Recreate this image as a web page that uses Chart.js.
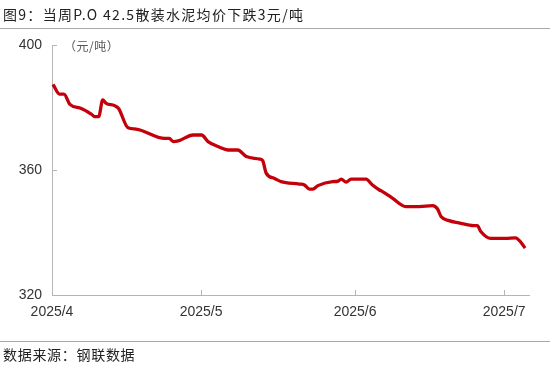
<!DOCTYPE html>
<html>
<head>
<meta charset="utf-8">
<script src="https://cdn.jsdelivr.net/npm/chart.js@4"></script>
<style>
  body { margin: 0; background: #fff; }
  #wrap { position: relative; width: 550px; height: 367px; overflow: hidden; }
  #chart { position: absolute; left: 0; top: 0; }
  .title { position: absolute; left: 3px; top: 4px; font: 14px "Noto Sans CJK SC", sans-serif; letter-spacing: 1.3px; color: #222; white-space: nowrap; }
  .rule { position: absolute; left: 0; width: 550px; height: 1px; background: #a8a8a8; }
  .unit { position: absolute; left: 64px; top: 37px; font: 12px "Noto Sans CJK SC", sans-serif; letter-spacing: 0.5px; color: #555; }
  .source { position: absolute; left: 3px; top: 344px; font: 14px "Noto Sans CJK SC", sans-serif; letter-spacing: 0.7px; color: #222; white-space: nowrap; }
</style>
</head>
<body>
<div id="wrap">
  <canvas id="chart" width="550" height="367"></canvas>
  <div class="title">图9：当周P.O 42.5散装水泥均价下跌3元/吨</div>
  <div class="rule" style="top:28px"></div>
  <div class="unit">（元/吨）</div>
  <div class="rule" style="top:341px"></div>
  <div class="source">数据来源：钢联数据</div>
</div>
<script>
// dias desde 2025/4/1 y precio (元/吨)
const dayOffsets = [0.2, 1.5, 2.4, 3.6, 5.9, 7.9, 8.6, 9.4, 10.2, 10.9, 12.6, 13.4, 15.3, 16.9,
  22.7, 23.6, 24.4, 25.4, 28.4, 30.1, 31.4, 33.7, 35.4, 37.4, 39.1, 41.8, 42.4, 43.1, 44.8, 46.1,
  49.8, 50.8, 51.8, 52.5, 53.5, 56.5, 57.5, 58.2, 59.2, 60.2, 63.2, 64.5, 65.9, 66.5, 68.5, 71.2,
  73.9, 76.6, 77.6, 78.3, 79.9, 81.9, 84.9, 85.6, 86.3, 88.3, 91.3, 93.3, 94.3, 95.2];
const prices = [387.4, 384.3, 384.3, 381, 379.7, 377.9, 377.1, 377.1, 382.4, 381.3, 380.6, 379.7, 373.5, 373.1,
  370.1, 370.1, 369.1, 369.3, 371.2, 371.2, 369.1, 367.3, 366.4, 366.4, 364.3, 363.5, 363, 359, 357.3, 356.3,
  355.5, 355.2, 353.9, 353.9, 355, 356.3, 356.4, 357.1, 356.1, 357.1, 357.1, 355.2, 353.6, 353.1, 351, 348.3,
  348.3, 348.6, 347.5, 345.1, 343.8, 343.1, 342.2, 342.2, 340.3, 338.1, 338.1, 338.3, 337, 335];
const monthTicks = [0, 30, 61, 91];
const monthLabels = ['2025/4', '2025/5', '2025/6', '2025/7'];
const yTicks = [320, 360, 400];

const points = dayOffsets.map((d, i) => ({ x: d, y: prices[i] }));

// marcas cortas hacia dentro en ambos ejes
const innerTicks = {
  id: 'innerTicks',
  afterDraw(chart) {
    const ctx = chart.ctx;
    const xs = chart.scales.x, ys = chart.scales.y;
    const area = chart.chartArea;
    ctx.save();
    ctx.strokeStyle = '#b5b5b5';
    ctx.lineWidth = 1;
    ctx.beginPath();
    monthTicks.forEach(t => {
      const px = Math.round(xs.getPixelForValue(t)) + 0.5;
      ctx.moveTo(px, area.bottom);
      ctx.lineTo(px, area.bottom - 5);
    });
    yTicks.forEach(t => {
      const py = Math.round(ys.getPixelForValue(t)) + 0.5;
      ctx.moveTo(area.left, py);
      ctx.lineTo(area.left + 5, py);
    });
    ctx.stroke();
    ctx.restore();
  }
};

new Chart(document.getElementById('chart').getContext('2d'), {
  type: 'line',
  data: {
    datasets: [{
      data: points,
      borderColor: '#C4000A',
      borderWidth: 3.3,
      pointRadius: 0,
      fill: false,
      cubicInterpolationMode: 'monotone',
      clip: false
    }]
  },
  options: {
    responsive: false,
    animation: false,
    plugins: { legend: { display: false }, tooltip: { enabled: false } },
    layout: { padding: { left: 0, right: 21, top: 45, bottom: 42 } },
    scales: {
      x: {
        type: 'linear',
        min: 0,
        max: 96,
        afterBuildTicks: scale => { scale.ticks = monthTicks.map(v => ({ value: v })); },
        afterFit: scale => { scale.height = 30; },
        grid: { drawOnChartArea: false, drawTicks: false },
        border: { color: '#b5b5b5' },
        ticks: {
          padding: 9,
          color: '#333',
          font: { family: 'Liberation Sans', size: 14 },
          maxRotation: 0,
          callback: v => monthLabels[monthTicks.indexOf(v)]
        }
      },
      y: {
        min: 320,
        max: 400,
        afterBuildTicks: scale => { scale.ticks = yTicks.map(v => ({ value: v })); },
        afterFit: scale => { scale.width = 52; },
        grid: { drawOnChartArea: false, drawTicks: false },
        border: { color: '#b5b5b5' },
        ticks: {
          padding: 10,
          color: '#333',
          font: { family: 'Liberation Sans', size: 14 }
        }
      }
    }
  },
  plugins: [innerTicks]
});
</script>
</body>
</html>
